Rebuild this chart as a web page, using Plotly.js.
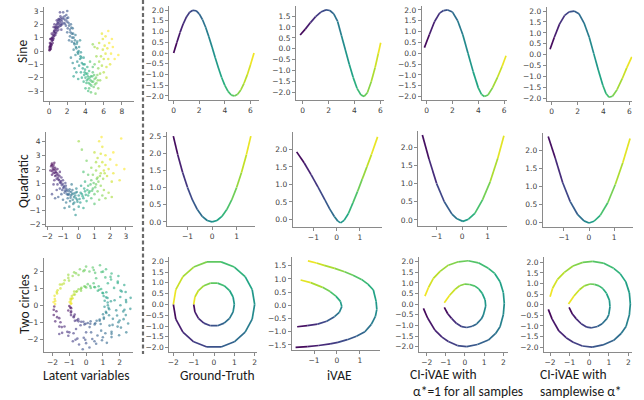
<!DOCTYPE html>
<html><head><meta charset="utf-8">
<script src="https://cdn.plot.ly/plotly-3.0.1.min.js"></script>
<style>html,body{margin:0;padding:0;background:#fff}</style>
</head><body><div id="chart" style="width:644px;height:400px"></div>
<script>
// ---------- DATA ----------
const rowLabels = ['Sine', 'Quadratic', 'Two circles'];
const colLabels = ['Latent variables', 'Ground-Truth', 'iVAE'];
const colLabelCI1 = ['CI-iVAE with', 'α*=1 for all samples'];
const colLabelCI2 = ['CI-iVAE with', 'samplewise α*'];

// Latent variables: Sine
const sineLatX = [0.05,0.1,0.15,0.05,0.2,0.25,0.1,0.3,0.2,0.4,0.35,0.5,0.45,0.6,0.55,0.7,0.75,0.8,0.65,0.9,1.0,0.95,1.1,1.2,1.05,1.3,1.4,1.25,1.5,1.6,1.7,1.55,1.8,1.9,2.0,1.85,2.1,2.2,1.35,0.85,0.3,0.15,0.6,2.0,1.2,0.5,
 2.3,2.4,2.5,2.3,2.6,2.7,2.5,2.8,2.9,3.0,2.7,3.1,3.2,2.9,3.3,3.4,3.1,3.5,3.6,3.3,2.6,2.8,3.0,2.7,3.2,2.4,3.7,3.8,3.5,2.2,2.0,3.4,
 3.9,4.0,4.2,4.1,4.3,4.4,4.5,4.6,4.4,4.7,4.8,4.9,5.0,3.8,3.6,4.2,4.6,5.1,5.2,5.3,4.0,4.3,3.9,4.8,5.0,4.5,
 5.4,5.5,5.6,5.7,5.8,5.9,6.0,6.1,6.2,6.3,6.4,6.5,6.6,6.8,7.0,5.3,5.5,5.9,6.2,6.5,5.2,5.0,6.7,7.2,5.6,6.0,5.8,4.8,6.9,7.6,5.4,6.3,
 0.08,0.12,0.18,0.22,0.28,0.32,0.38,0.42,0.48,0.52,0.58,0.62,0.68,0.72,0.78,0.82,0.88,0.92,0.98,1.02,1.08,1.15,1.18,1.28,1.32,1.38,1.45,1.62,1.75,1.95,2.05,2.15,2.35,2.45,2.55,2.65,2.75,2.85,2.95,3.05,3.15,3.25,3.45,3.55,3.75,3.85,3.95,4.05,4.15,4.25,4.35,4.45,4.55,4.65,4.75,4.85,4.95,5.05,5.15,5.35];
const sineLatY = [0.05,0.2,0.35,0.3,0.15,0.5,0.6,0.75,0.9,0.6,1.0,1.1,0.85,1.3,1.5,1.2,1.6,1.9,1.75,1.5,1.8,2.1,2.0,2.3,2.4,1.9,2.2,2.6,2.5,2.1,2.6,2.9,2.3,2.7,2.2,1.9,2.5,1.9,1.6,2.3,1.3,0.9,2.0,3.0,2.9,1.8,
 1.6,2.0,1.3,1.1,1.7,1.0,0.7,0.5,1.2,0.2,0.1,0.7,-0.2,-0.3,0.3,-0.6,-0.8,-0.1,-0.9,-1.1,-0.9,-1.3,-1.6,-1.9,-2.1,-0.5,-1.3,-0.5,-1.6,0.8,1.4,0.8,
 -1.6,-2.0,-1.7,-2.4,-2.1,-1.5,-2.5,-1.9,-2.8,-2.3,-1.6,-2.7,-2.1,-2.3,-2.0,-1.2,-3.1,-3.2,-2.4,-1.8,-2.8,-3.0,-1.0,-1.2,-1.0,-0.8,
 -1.3,-0.8,-1.7,-0.4,-1.1,0.1,-0.6,0.4,-0.2,-1.2,0.2,-0.6,0.6,-0.2,0.3,0.2,0.6,0.9,1.1,1.5,-0.4,0.3,-1.0,-0.6,-2.2,-1.6,1.3,0.5,0.9,-0.3,-2.8,-2.0,
 0.1,0.4,0.55,0.3,0.45,0.95,0.8,1.2,0.95,1.4,1.15,1.55,1.4,1.8,1.35,1.7,2.0,1.75,2.2,1.6,2.35,1.85,2.15,2.45,2.0,2.35,2.0,2.4,2.05,2.45,1.7,2.1,1.4,1.75,1.0,1.3,0.6,0.8,0.3,0.55,-0.1,0.0,-0.4,-0.5,-1.0,-1.8,-1.4,-1.7,-2.2,-1.9,-2.4,-2.0,-2.2,-2.6,-1.9,-2.3,-1.8,-2.5,-2.0,-2.2];
const sineLatC = [0.0,0.02,0.03,0.02,0.02,0.04,0.04,0.05,0.06,0.05,0.07,0.08,0.07,0.09,0.1,0.09,0.11,0.12,0.11,0.11,0.13,0.14,0.15,0.16,0.15,0.17,0.18,0.17,0.2,0.21,0.22,0.21,0.23,0.24,0.26,0.25,0.27,0.29,0.17,0.13,0.07,0.05,0.11,0.25,0.17,0.09,
 0.31,0.31,0.34,0.33,0.34,0.37,0.37,0.4,0.39,0.43,0.41,0.42,0.46,0.45,0.45,0.5,0.49,0.48,0.53,0.52,0.47,0.5,0.53,0.55,0.57,0.42,0.56,0.53,0.57,0.33,0.3,0.46,
 0.6,0.63,0.63,0.66,0.67,0.65,0.7,0.69,0.7,0.72,0.71,0.75,0.75,0.62,0.6,0.62,0.73,0.78,0.78,0.79,0.65,0.68,0.58,0.72,0.76,0.7,
 0.81,0.84,0.83,0.88,0.87,0.92,0.91,0.95,0.95,0.92,0.97,0.96,0.99,0.99,1.0,0.88,0.9,0.95,0.98,1.0,0.84,0.85,0.95,1.0,0.82,0.88,0.96,0.82,1.0,1.0,0.8,0.9,
 0.01,0.03,0.04,0.03,0.04,0.06,0.06,0.08,0.07,0.09,0.08,0.1,0.1,0.12,0.1,0.12,0.14,0.13,0.15,0.13,0.16,0.15,0.16,0.18,0.17,0.19,0.18,0.21,0.23,0.25,0.27,0.28,0.32,0.33,0.36,0.37,0.39,0.41,0.43,0.45,0.47,0.48,0.51,0.53,0.56,0.6,0.6,0.63,0.65,0.65,0.68,0.68,0.7,0.71,0.71,0.73,0.73,0.76,0.76,0.8];

// Latent variables: Quadratic
const quadLatX = [-1.7,-1.6,-1.75,-1.55,-1.65,-1.5,-1.8,-1.45,-1.6,-1.35,-1.5,-1.7,-1.3,-1.4,-1.2,-1.25,-1.55,-1.1,-1.15,-1.35,-1.0,-0.95,-1.2,-0.85,-1.05,-0.8,-1.4,-1.6,-0.9,-1.1,-0.75,-1.3,-1.7,-1.5,
 -0.6,-0.5,-0.7,-0.4,-0.3,-0.55,-0.2,-0.1,-0.35,0.0,-0.15,0.1,-0.6,0.2,-0.3,0.3,0.0,-0.8,-1.0,-0.2,0.4,0.5,-0.45,0.15,-0.9,0.3,0.6,
 0.7,0.8,0.9,1.0,0.6,1.1,1.2,1.3,0.8,1.4,1.5,1.0,1.6,1.7,0.4,1.9,2.1,
 0.9,1.1,1.2,1.3,1.4,1.5,1.6,1.7,1.2,1.4,1.8,1.9,2.0,1.1,0.8,1.5,1.3,1.0,2.2,2.4,2.6,2.9,0.5,1.7,2.1,0.6,1.45,2.2,0.3,0.2,0.0,2.7,
 -1.72,-1.62,-1.58,-1.68,-1.52,-1.48,-1.42,-1.38,-1.32,-1.28,-1.22,-1.18,-1.12,-1.08,-1.02,-0.98,-0.92,-0.88,-0.82,-0.78,-0.72,-0.68,-0.62,-0.58,-0.52,-0.48,-0.42,-0.38,-0.32,-0.28,-0.22,-0.18,-0.12,-0.08,0.05,0.12,0.25,0.35,0.45,0.55,0.65,0.75,0.85,0.95,1.05,1.15,1.25,1.35,1.55,1.65];
const quadLatY = [2.4,2.3,2.2,2.45,2.0,2.1,1.9,1.8,1.7,2.0,1.5,1.6,1.6,1.3,1.8,1.2,1.2,1.4,1.0,0.9,1.2,0.8,0.6,1.0,0.5,0.6,0.5,0.9,0.3,0.2,0.2,0.0,0.2,-0.1,
 0.4,0.1,-0.1,0.5,0.0,-0.3,0.3,-0.2,-0.5,0.1,0.6,-0.4,-0.7,0.2,-0.9,-0.1,-0.7,-0.4,-0.2,-1.3,0.4,-0.3,0.9,0.8,-0.8,-0.8,0.1,
 0.4,-0.1,0.6,0.2,0.8,0.9,0.4,-0.2,1.2,0.8,0.1,-0.5,0.5,-0.1,1.1,0.3,0.0,
 1.6,1.9,1.4,2.2,1.7,2.5,1.9,2.3,2.8,3.1,1.5,2.0,2.7,2.5,2.1,3.6,4.0,3.2,1.7,2.3,1.2,2.0,2.6,3.0,1.1,1.6,4.3,3.2,1.8,3.4,4.0,4.2,
 2.3,2.15,1.95,1.85,1.75,1.95,1.55,1.7,1.4,1.25,1.5,1.05,1.15,0.85,0.95,0.65,0.7,0.45,0.8,0.4,0.5,0.15,0.2,0.55,-0.05,0.35,0.2,-0.2,0.25,-0.4,0.1,-0.1,0.35,-0.35,-0.15,0.3,0.05,0.6,0.15,0.5,0.3,0.9,0.45,1.0,0.7,1.3,1.1,1.5,1.3,1.7];
const quadLatC = [0.0,0.01,0.01,0.0,0.03,0.03,0.03,0.05,0.05,0.05,0.07,0.05,0.08,0.1,0.08,0.12,0.1,0.12,0.15,0.15,0.15,0.2,0.2,0.2,0.22,0.25,0.18,0.14,0.27,0.27,0.3,0.27,0.2,0.25,
 0.32,0.36,0.35,0.36,0.42,0.4,0.43,0.47,0.44,0.5,0.45,0.52,0.42,0.55,0.47,0.57,0.52,0.38,0.32,0.5,0.6,0.62,0.38,0.55,0.4,0.58,0.64,
 0.68,0.7,0.72,0.74,0.68,0.77,0.78,0.78,0.74,0.82,0.8,0.72,0.84,0.82,0.64,0.86,0.87,
 0.8,0.84,0.84,0.88,0.88,0.92,0.92,0.94,0.9,0.94,0.92,0.95,0.97,0.86,0.82,0.97,0.98,0.9,0.97,1.0,0.97,1.0,0.78,0.97,0.92,0.74,1.0,1.0,0.7,0.8,0.85,1.0,
 0.0,0.02,0.03,0.03,0.05,0.04,0.07,0.06,0.09,0.11,0.09,0.14,0.13,0.17,0.16,0.2,0.21,0.24,0.22,0.27,0.28,0.31,0.33,0.32,0.37,0.36,0.4,0.42,0.42,0.45,0.46,0.48,0.47,0.5,0.52,0.55,0.58,0.6,0.62,0.64,0.66,0.7,0.71,0.74,0.74,0.78,0.79,0.82,0.84,0.88];

// Latent variables: Two circles
const circLatX = [-1.9,-1.77,-1.93,-1.73,-1.84,-1.53,-1.6,-1.29,-1.43,-1.12,-1.06,-0.75,-0.79,-0.52,-0.42,-0.14,0.0,0.2,0.37,0.6,0.68,0.95,1.24,1.15,1.52,1.52,1.97,1.58,2.08,1.93,2.51,1.85,2.37,2.22,2.64,2.05,2.39,2.66,2.04,2.36,2.06,2.28,1.67,1.89,1.93,1.49,1.52,1.15,1.19,0.92,0.83,0.54,0.4,0.2,0.0,-0.16,-0.37,-0.45,-0.71,-0.8,-1.06,-1.02,-1.28,-1.33,-1.56,-1.53,-1.7,-1.73,-1.88,-1.87,-1.94,-1.85,
 -1.0,-0.89,-1.06,-0.89,-0.9,-0.68,-0.74,-0.67,-0.47,-0.45,-0.33,-0.16,-0.1,0.1,0.21,0.27,0.51,0.63,0.87,0.81,1.06,1.01,1.37,1.18,1.38,1.1,1.3,1.48,1.11,1.28,1.05,1.21,0.98,0.9,0.7,0.75,0.49,0.45,0.28,0.1,0.01,-0.1,-0.28,-0.3,-0.45,-0.58,-0.71,-0.67,-0.85,-0.81,-0.93,-0.91,-0.98,-0.9,
 0.9,1.4,1.8,1.7,0.3,0.0,1.3,0.6,-0.6,1.6,2.0,-1.6,-0.2,2.4,
 -1.93,-1.6,-1.45,-1.0,-0.63,-0.05,0.5,1.0,1.52,1.88,2.24,2.29,2.38,2.13,1.89,1.46,1.01,0.46,-0.09,-0.6,-1.06,-1.44,-1.75,-1.84,
 -0.94,-0.91,-0.73,-0.56,-0.29,-0.03,0.25,0.55,0.81,1.06,1.21,1.34,1.29,1.2,1.01,0.79,0.53,0.24,-0.05,-0.31,-0.55,-0.74,-0.87,-0.89];
const circLatY = [-0.07,-0.35,-0.57,-0.7,-0.95,-1.0,-1.26,-1.25,-1.63,-1.57,-1.8,-1.65,-2.13,-1.97,-2.32,-1.92,-2.24,-2.5,-1.99,-2.27,-1.79,-2.07,-2.22,-1.65,-1.88,-1.57,-1.77,-1.16,-1.32,-1.0,-1.08,-0.6,-0.58,-0.36,-0.21,0.0,0.19,0.44,0.49,0.79,0.87,1.2,1.03,1.41,1.73,1.53,1.88,1.65,2.13,1.97,2.37,1.92,2.24,2.0,2.29,2.02,2.13,1.79,1.95,1.73,1.8,1.46,1.48,1.29,1.23,1.0,0.89,0.7,0.56,0.37,0.19,0.07,
 -0.04,-0.17,-0.31,-0.36,-0.58,-0.55,-0.71,-0.92,-0.82,-0.95,-1.18,-0.97,-1.13,-1.05,-1.29,-0.94,-1.13,-0.91,-1.11,-0.84,-0.8,-0.53,-0.59,-0.39,-0.23,-0.09,0.0,0.24,0.27,0.43,0.55,0.77,0.74,0.96,0.86,1.13,1.08,1.3,1.03,1.25,1.05,1.13,1.03,0.86,0.95,0.8,0.81,0.64,0.55,0.42,0.38,0.27,0.19,0.09,
 -1.5,-1.2,-0.3,0.3,-1.6,-1.6,1.3,1.6,-1.4,-0.8,-0.9,-1.7,-2.6,-1.6,
 -0.26,-0.76,-1.29,-1.6,-2.04,-2.04,-2.13,-1.89,-1.69,-1.26,-0.82,-0.26,0.31,0.82,1.32,1.68,1.99,2.09,2.08,1.89,1.62,1.23,0.79,0.25,
 -0.13,-0.43,-0.65,-0.88,-0.97,-1.09,-1.09,-1.06,-0.91,-0.72,-0.45,-0.15,0.17,0.47,0.71,0.92,1.07,1.14,1.09,0.97,0.83,0.63,0.39,0.12];
const circLatC = [0.006,0.03,0.04,0.06,0.07,0.08,0.1,0.11,0.125,0.14,0.15,0.17,0.18,0.19,0.21,0.22,0.24,0.25,0.26,0.28,0.29,0.31,0.32,0.33,0.35,0.36,0.375,0.39,0.4,0.42,0.43,0.44,0.46,0.47,0.49,0.5,0.51,0.53,0.54,0.56,0.57,0.58,0.6,0.61,0.625,0.64,0.65,0.67,0.68,0.69,0.71,0.72,0.74,0.75,0.76,0.78,0.79,0.81,0.82,0.83,0.85,0.86,0.875,0.89,0.9,0.92,0.93,0.94,0.96,0.97,0.99,0.995,
 0.005,0.03,0.04,0.06,0.08,0.1,0.11,0.14,0.15,0.17,0.19,0.21,0.22,0.25,0.26,0.28,0.31,0.33,0.35,0.36,0.39,0.42,0.43,0.44,0.47,0.49,0.5,0.53,0.54,0.56,0.58,0.6,0.61,0.64,0.65,0.67,0.69,0.71,0.72,0.75,0.76,0.78,0.81,0.82,0.83,0.86,0.875,0.89,0.92,0.93,0.94,0.96,0.97,0.99,
 0.33,0.38,0.46,0.52,0.27,0.23,0.62,0.7,0.18,0.42,0.43,0.14,0.25,0.4,
 0.02,0.06,0.1,0.15,0.19,0.23,0.27,0.31,0.36,0.4,0.44,0.48,0.52,0.56,0.6,0.65,0.69,0.73,0.77,0.81,0.86,0.9,0.94,0.98,
 0.02,0.06,0.1,0.15,0.19,0.23,0.27,0.31,0.36,0.4,0.44,0.48,0.52,0.56,0.6,0.65,0.69,0.73,0.77,0.81,0.86,0.9,0.94,0.98];

// Sine curves
const sineTruthX = [0,0.25,0.5,0.75,1,1.25,1.5,1.75,2,2.25,2.5,2.75,3,3.25,3.5,3.75,4,4.25,4.5,4.75,5,5.25,5.5,5.75,6,6.28];
const sineTruthY = [0,0.49,0.96,1.36,1.68,1.9,1.99,1.97,1.82,1.56,1.2,0.76,0.28,-0.22,-0.7,-1.14,-1.51,-1.79,-1.96,-2.0,-1.92,-1.72,-1.41,-1.02,-0.56,0.0];
const sineIvaeX = [-0.2,0.2,0.6,1.0,1.4,1.8,2.1,2.4,2.7,3.0,3.3,3.6,3.9,4.2,4.5,4.75,5.0,5.3,5.6,5.85,6.03];
const sineIvaeY = [0.63,0.9,1.2,1.47,1.68,1.78,1.75,1.6,1.25,0.6,-0.05,-0.7,-1.3,-1.8,-2.1,-2.17,-2.0,-1.5,-0.85,-0.2,0.28];
const sineCi1X = [-0.18,0.2,0.6,1.0,1.3,1.63,2.0,2.4,2.8,3.2,3.6,4.0,4.25,4.47,4.75,5.1,5.5,5.85,6.15];
const sineCi1Y = [0.26,0.85,1.45,1.85,1.97,2.0,1.9,1.5,0.85,0.0,-0.85,-1.6,-1.9,-2.0,-1.93,-1.6,-1.1,-0.6,-0.12];
const sineCi2X = [-0.13,0.2,0.6,1.0,1.35,1.73,2.1,2.5,2.9,3.25,3.6,3.95,4.2,4.43,4.7,5.05,5.45,5.8,6.19];
const sineCi2Y = [0.25,0.8,1.4,1.8,1.96,2.0,1.88,1.45,0.8,0.05,-0.7,-1.4,-1.78,-1.95,-1.9,-1.6,-1.1,-0.6,-0.1];

// Quadratic curves
const quadTruthX = [-1.58,-1.4,-1.2,-1.0,-0.8,-0.6,-0.4,-0.2,0,0.2,0.4,0.6,0.8,1.0,1.2,1.4,1.58];
const quadTruthY = [2.5,1.96,1.44,1.0,0.64,0.36,0.16,0.04,0,0.04,0.16,0.36,0.64,1.0,1.44,1.96,2.5];
const quadIvaeX = [-1.72,-1.4,-1.1,-0.8,-0.5,-0.3,-0.1,0.05,0.17,0.32,0.5,0.7,0.9,1.1,1.3,1.5,1.76];
const quadIvaeY = [1.93,1.62,1.28,0.92,0.55,0.3,0.08,-0.05,-0.1,-0.03,0.16,0.47,0.8,1.15,1.5,1.86,2.36];
const quadCi1X = [-1.56,-1.3,-1.0,-0.7,-0.4,-0.2,0.03,0.25,0.5,0.8,1.1,1.4,1.64];
const quadCi1Y = [2.34,1.68,1.0,0.5,0.16,0.03,-0.04,0.02,0.18,0.55,1.05,1.7,2.32];
const quadCi2X = [-1.63,-1.35,-1.05,-0.75,-0.45,-0.2,0.0,0.2,0.45,0.75,1.05,1.35,1.64];
const quadCi2Y = [2.37,1.78,1.1,0.58,0.22,0.05,-0.01,0.04,0.2,0.55,1.05,1.65,2.32];

// Two-circle curves (outer / inner)
const circTruthOutX = [-2,-1.879,-1.532,-1,-0.347,0.347,1,1.532,1.879,2,1.879,1.532,1,0.347,-0.347,-1,-1.532,-1.879,-2];
const circTruthOutY = [0,-0.684,-1.286,-1.732,-1.97,-1.97,-1.732,-1.286,-0.684,0,0.684,1.286,1.732,1.97,1.97,1.732,1.286,0.684,0];
const circTruthInX = [-1,-0.94,-0.766,-0.5,-0.174,0.174,0.5,0.766,0.94,1,0.94,0.766,0.5,0.174,-0.174,-0.5,-0.766,-0.94,-1];
const circTruthInY = [0,-0.342,-0.643,-0.866,-0.985,-0.985,-0.866,-0.643,-0.342,0,0.342,0.643,0.866,0.985,0.985,0.866,0.643,0.342,0];
const circIvaeOutX = [-1.81,-1.3,-0.8,-0.3,0.04,0.45,0.85,1.22,1.5,1.68,1.74,1.71,1.59,1.35,1.07,0.7,0.33,-0.1,-0.56,-0.9,-1.27];
const circIvaeOutY = [-1.59,-1.56,-1.52,-1.46,-1.4,-1.3,-1.17,-1.0,-0.72,-0.42,-0.15,0.15,0.58,0.8,0.98,1.14,1.27,1.4,1.51,1.6,1.68];
const circIvaeInX = [-1.74,-1.3,-0.85,-0.45,-0.11,0.1,0.21,0.15,-0.05,-0.3,-0.63,-1.15,-1.59];
const circIvaeInY = [-0.81,-0.77,-0.71,-0.6,-0.43,-0.27,-0.05,0.15,0.35,0.52,0.68,0.86,0.96];
const circCi1OutX = [-2.17,-1.95,-1.57,-1.2,-0.87,-0.4,0.09,0.65,1.22,1.6,1.83,2.0,2.05,2.0,1.83,1.55,1.22,0.7,0.17,-0.35,-0.87,-1.3,-1.65,-1.9,-2.09];
const circCi1OutY = [-0.2,-0.65,-1.22,-1.55,-1.76,-1.95,-2.0,-1.9,-1.69,-1.38,-1.06,-0.5,0.04,0.55,1.06,1.45,1.69,1.95,2.05,2.0,1.84,1.55,1.22,0.8,0.38];
const circCi1InX = [-1.08,-0.9,-0.7,-0.45,-0.17,0.09,0.38,0.61,0.85,0.96,1.08,1.05,0.9,0.72,0.52,0.25,0,-0.28,-0.52,-0.8,-1.08];
const circCi1InY = [-0.15,-0.45,-0.67,-0.9,-1.06,-1.1,-1.04,-0.93,-0.7,-0.51,-0.09,0.2,0.51,0.72,0.85,0.93,0.95,0.87,0.7,0.42,0.07];
const circCi2OutX = [-2.09,-1.9,-1.55,-1.18,-0.82,-0.35,0.15,0.7,1.25,1.63,1.88,2.05,2.1,2.05,1.87,1.58,1.25,0.72,0.18,-0.33,-0.83,-1.27,-1.62,-1.87,-2.0];
const circCi2OutY = [-0.22,-0.67,-1.24,-1.56,-1.77,-1.95,-2.0,-1.9,-1.68,-1.36,-1.03,-0.48,0.04,0.56,1.08,1.47,1.72,1.97,2.05,2.0,1.83,1.53,1.2,0.78,0.38];
const circCi2InX = [-1.03,-0.86,-0.66,-0.41,-0.12,0.13,0.42,0.66,0.9,1.0,1.06,1.03,0.88,0.7,0.5,0.27,0.04,-0.25,-0.5,-0.78,-1.06];
const circCi2InY = [-0.13,-0.44,-0.67,-0.9,-1.06,-1.09,-1.03,-0.9,-0.66,-0.47,-0.09,0.22,0.54,0.76,0.89,0.96,0.98,0.89,0.71,0.41,0.03];

// ---------- STYLE / LAYOUT ----------
const W = 644, H = 400;
const VIR = ['#440154','#482475','#414487','#355f8d','#2a788e','#21918c','#22a884','#44bf70','#7ad151','#bddf26','#fde725'];
function hex2rgb(h){return [parseInt(h.substr(1,2),16),parseInt(h.substr(3,2),16),parseInt(h.substr(5,2),16)];}
function vir(t){
  t = Math.max(0, Math.min(1, t));
  const f = t*10, i = Math.min(9, Math.floor(f)), r = f - i;
  const a = hex2rgb(VIR[i]), b = hex2rgb(VIR[i+1]);
  return 'rgb(' + a.map((v,j)=>Math.round(v + (b[j]-v)*r)).join(',') + ')';
}

// subplot boxes in pixels: [left, top, right, bottom], ranges, dticks, y format
const P = [
 [44,7,134,101,     -0.55,9.32, -3.75,3.3,   2,1,''],
 [169.3,6,259,100,  -0.34,6.67, -2.19,2.19,  2,0.5,'.1f'],
 [296,5.7,384.3,99.7, -0.52,6.31, -2.32,1.97, 2,0.5,'.1f'],
 [421.7,6,507.3,100, -0.39,6.25, -2.16,2.18,  2,0.5,'.1f'],
 [546.7,6.7,632.3,101, -0.39,6.23, -2.12,2.2, 2,0.5,'.1f'],
 [46,131.7,133,226, -2.08,3.45, -2.09,4.69,  1,1,''],
 [166.7,131.7,255,226, -1.85,1.75, -0.12,2.63, 1,0.5,'.1f'],
 [292.7,132.3,382,226.7, -1.89,1.95, -0.21,2.49, 1,0.5,'.1f'],
 [418.3,131,506.7,225.7, -1.72,1.75, -0.16,2.45, 1,0.5,'.1f'],
 [542.7,133.3,633.3,226.7, -1.85,1.77, -0.11,2.46, 1,0.5,'.1f'],
 [43.7,258.3,133,352.3, -2.53,2.8, -2.78,2.78, 1,1,''],
 [169.3,256.7,257.3,351.7, -2.2,2.13, -2.19,2.21, 1,0.5,'.1f'],
 [291.7,256.7,380,350, -1.98,1.88, -1.69,1.84, 1,0.5,'.1f'],
 [419,256.7,508.3,351.7, -2.4,2.26, -2.24,2.24, 1,0.5,'.1f'],
 [544,256.7,632.3,351.7, -2.31,2.2, -2.22,2.27, 1,0.5,'.1f']
];

const layout = {
  width: W, height: H, margin: {l:0,r:0,t:0,b:0},
  paper_bgcolor: '#fff', plot_bgcolor: 'rgba(0,0,0,0)', showlegend: false,
  annotations: [], shapes: []
};
const axCommon = {
  showline: true, linecolor: '#8a8a8a', linewidth: 1, mirror: false,
  ticks: 'outside', ticklen: 3, tickwidth: 1, tickcolor: '#8a8a8a',
  tickfont: {family: 'DejaVu Sans, sans-serif', size: 7.5, color: '#404040'},
  showgrid: false, zeroline: false, fixedrange: true, tick0: 0
};
P.forEach((p, i) => {
  const k = i + 1;
  const xk = k === 1 ? 'xaxis' : 'xaxis' + k;
  const yk = k === 1 ? 'yaxis' : 'yaxis' + k;
  layout[xk] = Object.assign({}, axCommon, {
    domain: [p[0]/W, p[2]/W], range: [p[4], p[5]], dtick: p[8],
    anchor: k === 1 ? 'y' : 'y' + k
  });
  layout[yk] = Object.assign({}, axCommon, {
    domain: [1 - p[3]/H, 1 - p[1]/H], range: [p[6], p[7]], dtick: p[9],
    tickformat: p[10], anchor: k === 1 ? 'x' : 'x' + k
  });
});
function refs(k){ return k === 1 ? ['x','y'] : ['x'+k, 'y'+k]; }

const traces = [];
function addCloud(xs, ys, cs, k){
  const r = refs(k);
  traces.push({type:'scatter', mode:'markers', x: xs, y: ys, xaxis: r[0], yaxis: r[1],
    marker: {size: 2.6, color: cs, colorscale: 'Viridis', cmin: 0, cmax: 1, opacity: 0.6, line: {width: 0}},
    hoverinfo: 'skip', showlegend: false});
}
function addCurve(xs, ys, k){
  const r = refs(k), n = xs.length;
  for (let i = 0; i < n - 1; i++) {
    traces.push({type:'scatter', mode:'lines', x: [xs[i], xs[i+1]], y: [ys[i], ys[i+1]],
      xaxis: r[0], yaxis: r[1], line: {color: vir((i + 0.5)/(n - 1)), width: 1.7},
      hoverinfo: 'skip', showlegend: false});
  }
}

addCloud(sineLatX, sineLatY, sineLatC, 1);
addCurve(sineTruthX, sineTruthY, 2);
addCurve(sineIvaeX, sineIvaeY, 3);
addCurve(sineCi1X, sineCi1Y, 4);
addCurve(sineCi2X, sineCi2Y, 5);
addCloud(quadLatX, quadLatY, quadLatC, 6);
addCurve(quadTruthX, quadTruthY, 7);
addCurve(quadIvaeX, quadIvaeY, 8);
addCurve(quadCi1X, quadCi1Y, 9);
addCurve(quadCi2X, quadCi2Y, 10);
addCloud(circLatX, circLatY, circLatC, 11);
addCurve(circTruthOutX, circTruthOutY, 12);
addCurve(circTruthInX, circTruthInY, 12);
addCurve(circIvaeOutX, circIvaeOutY, 13);
addCurve(circIvaeInX, circIvaeInY, 13);
addCurve(circCi1OutX, circCi1OutY, 14);
addCurve(circCi1InX, circCi1InY, 14);
addCurve(circCi2OutX, circCi2OutY, 15);
addCurve(circCi2InX, circCi2InY, 15);

// text labels
const labFont = {family: "Carlito, 'Liberation Sans Narrow', 'Liberation Sans', sans-serif", size: 13.5, color: '#1a1a1a'};
function ann(text, px, py, opts){
  layout.annotations.push(Object.assign({text: text, xref:'paper', yref:'paper', x: px/W, y: 1 - py/H,
    showarrow: false, font: labFont, xanchor:'center', yanchor:'middle', borderpad: 0}, opts || {}));
}
ann(rowLabels[0], 22, 52, {textangle: -90});
ann(rowLabels[1], 23, 181, {textangle: -90});
ann(rowLabels[2], 24, 304, {textangle: -90});
ann(colLabels[0], 86, 375);
ann(colLabels[1], 217.5, 375);
ann(colLabels[2], 339.5, 375);
ann(colLabelCI1[0], 409, 374, {xanchor:'left'});
ann(colLabelCI1[1], 412, 391, {xanchor:'left'});
ann(colLabelCI2[0], 539, 374, {xanchor:'left'});
ann(colLabelCI2[1], 539, 391, {xanchor:'left'});

// dashed separator
layout.shapes.push({type:'line', xref:'paper', yref:'paper', x0: 143/W, x1: 143/W, y0: 1, y1: 1 - 354/H,
  line: {color:'#6a6a6a', width: 2.2, dash: '4px,2.5px'}});

Plotly.newPlot('chart', traces, layout, {staticPlot: true, displayModeBar: false});
</script></body></html>
